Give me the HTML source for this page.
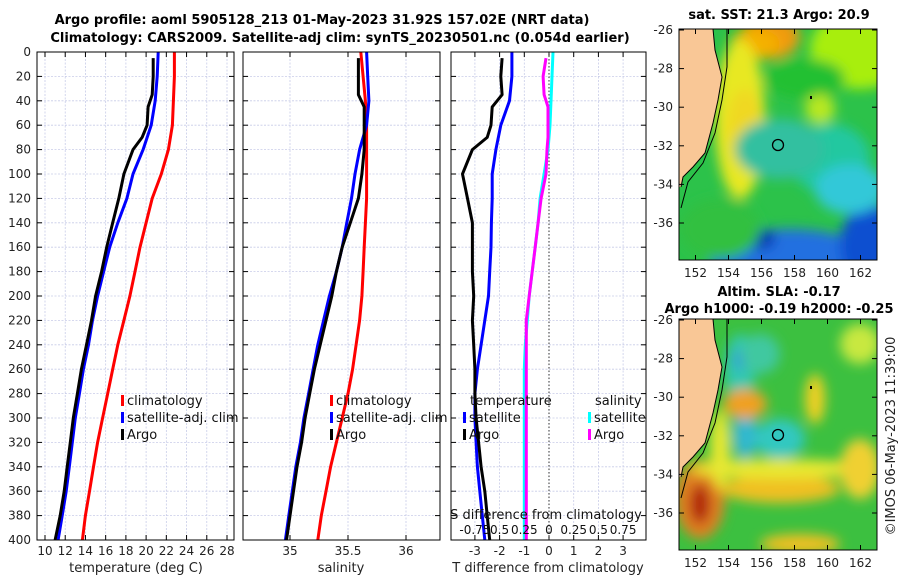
<!DOCTYPE html>
<html><head><meta charset="utf-8"><style>
body{margin:0;background:#fff;}
svg{display:block;font-family:"DejaVu Sans","Liberation Sans",sans-serif;}
.t{font-weight:bold;font-size:13px;fill:#000;}
.tk{font-size:12px;fill:#222;}
.g{stroke:#c8cce8;stroke-width:0.8;stroke-dasharray:2,1.5;}
</style></head><body>
<svg id="c" width="900" height="580" viewBox="0 0 900 580">
<text class="t" x="322" y="24" text-anchor="middle">Argo profile: aoml 5905128_213 01-May-2023 31.92S 157.02E (NRT data)</text>
<text class="t" x="340" y="42" text-anchor="middle">Climatology: CARS2009. Satellite-adj clim: synTS_20230501.nc (0.054d earlier)</text>
<g id="plots"></g>
<g id="maps"></g>
</svg>
<script>
// ---- data ----
const depths=[0,20,40,60,80,100,120,140,160,180,200,220,240,260,280,300,320,340,360,380,400];
const tClim=[22.8,22.8,22.7,22.6,22.2,21.5,20.6,20.0,19.4,18.9,18.4,17.8,17.2,16.7,16.2,15.7,15.2,14.8,14.4,14.0,13.7];
const tSat=[21.2,21.1,20.9,20.5,19.7,18.7,18.1,17.2,16.4,15.8,15.2,14.7,14.3,13.8,13.4,13.0,12.7,12.4,12.1,11.7,11.3];
const argoDepths=[5,20,35,45,60,70,80,100,120,140,160,180,200,220,240,260,280,300,320,340,360,380,400];
const tArgo=[20.7,20.7,20.6,20.2,20.1,19.6,18.7,17.8,17.3,16.7,16.1,15.6,15.0,14.6,14.1,13.6,13.2,12.8,12.5,12.2,11.9,11.5,11.0];
const sClim=[35.61,35.63,35.65,35.66,35.66,35.66,35.66,35.65,35.64,35.63,35.62,35.6,35.57,35.54,35.5,35.45,35.4,35.35,35.31,35.27,35.24];
const sSat=[35.66,35.67,35.68,35.66,35.6,35.56,35.53,35.49,35.45,35.4,35.34,35.29,35.24,35.2,35.16,35.12,35.09,35.05,35.02,34.99,34.96];
const sArgo=[35.59,35.59,35.59,35.64,35.64,35.64,35.64,35.62,35.59,35.52,35.45,35.4,35.36,35.31,35.26,35.21,35.17,35.13,35.1,35.06,35.03,35.0,34.97];
const dTSat=[-1.5,-1.5,-1.6,-1.95,-2.15,-2.3,-2.3,-2.33,-2.35,-2.4,-2.45,-2.6,-2.75,-2.9,-3.0,-3.0,-2.95,-2.9,-2.8,-2.7,-2.6];
const dTArgo=[-1.9,-1.95,-1.9,-2.3,-2.35,-2.5,-3.1,-3.5,-3.3,-3.1,-3.1,-3.1,-3.05,-3.1,-3.05,-3.0,-3.0,-2.95,-2.85,-2.75,-2.6,-2.5,-2.4];
const dSSat=[0.04,0.03,0.02,0.01,-0.01,-0.05,-0.09,-0.11,-0.14,-0.17,-0.2,-0.22,-0.24,-0.25,-0.25,-0.25,-0.25,-0.25,-0.25,-0.25,-0.25];
const dSArgo=[-0.03,-0.06,-0.05,-0.01,-0.01,-0.01,-0.02,-0.03,-0.08,-0.11,-0.14,-0.17,-0.2,-0.23,-0.23,-0.23,-0.23,-0.23,-0.23,-0.23,-0.23,-0.23,-0.23];
const yTicks=[0,20,40,60,80,100,120,140,160,180,200,220,240,260,280,300,320,340,360,380,400];
const tTicks=[10,12,14,16,18,20,22,24,26,28];
const sTicks=[35,35.5,36];
const sTickLabels=["35","35.5","36"];
const dTicks=[-3,-2,-1,0,1,2,3];
const dsTicks=[-0.75,-0.5,-0.25,0,0.25,0.5,0.75];
const dsTickLabels=["-0.75","0.5","0.25","0","0.25","0.5","0.75"];

const NS="http://www.w3.org/2000/svg";
function mk(tag,attrs,parent,txt){const e=document.createElementNS(NS,tag);for(const k in attrs)e.setAttribute(k,attrs[k]);if(txt!==undefined)e.textContent=txt;parent.appendChild(e);return e;}
const TOP=52,BOT=540;
const yScale=d=>TOP+d/400*(BOT-TOP);
function lin(d0,d1,p0,p1){return v=>p0+(v-d0)/(d1-d0)*(p1-p0);}
const plots=document.getElementById('plots');

function panel(name,x0,x1,xs,xt,xtl){
  const g=mk('g',{},plots);
  
  
  mk('rect',{x:x0,y:TOP,width:x1-x0,height:BOT-TOP,fill:'#fff'},g);
  xt.forEach((v,i)=>{const x=xs(v);
    mk('line',{x1:x,x2:x,y1:TOP,y2:BOT,class:'g'},g);
    mk('line',{x1:x,x2:x,y1:BOT,y2:BOT-5,stroke:'#000'},g);
    mk('line',{x1:x,x2:x,y1:TOP,y2:TOP+5,stroke:'#000'},g);
    const t=mk('text',{x:x,y:555,class:'tk','text-anchor':'middle'},g,xtl[i]);
    
    
  });
  yTicks.forEach(v=>{const y=yScale(v);
    mk('line',{x1:x0,x2:x1,y1:y,y2:y,class:'g'},g);
    mk('line',{x1:x0,x2:x0+5,y1:y,y2:y,stroke:'#000'},g);
    mk('line',{x1:x1,x2:x1-5,y1:y,y2:y,stroke:'#000'},g);
  });
  return g;
}
function line(g,xs,vals,ds,color,name,w){
  const pts=vals.map((v,i)=>xs(v).toFixed(1)+','+yScale(ds[i]).toFixed(1)).join(' ');
  const p=mk('polyline',{points:pts,fill:'none',stroke:color,'stroke-width':w||3,'stroke-linejoin':'round'},g);
  
  
}
function frame(g,x0,x1){mk('rect',{x:x0,y:TOP,width:x1-x0,height:BOT-TOP,fill:'none',stroke:'#000','stroke-width':1},g);}
function legend(g,x,y,items){items.forEach((it,i)=>{
  const yy=y+i*17;
  mk('rect',{x:x,y:yy-10,width:3,height:11,fill:it[1]},g);
  const t=mk('text',{x:x+6,y:yy,'font-size':'13px',fill:'#111'},g,it[0]);
  
  
});}

// panel 1 temperature
const xT=lin(10,28,45,227);
let g1=panel('temperature-panel',37,234,xT,tTicks,tTicks.map(String));
line(g1,xT,tClim,depths,'#f00','climatology-temp-line');
line(g1,xT,tSat,depths,'#00f','satellite-temp-line');
line(g1,xT,tArgo,argoDepths,'#000','argo-temp-line');
frame(g1,37,234);
legend(g1,121,405,[['climatology','#f00'],['satellite-adj. clim','#00f'],['Argo','#000']]);
yTicks.forEach(v=>{const t=mk('text',{x:31,y:yScale(v)+4,class:'tk','text-anchor':'end'},g1,String(v));
  
  });
mk('text',{x:136,y:572,'font-size':'13px','text-anchor':'middle',fill:'#222'},g1,'temperature (deg C)');

// panel 2 salinity
const xS=lin(35,36,290,406);
let g2=panel('salinity-panel',243,440,xS,sTicks,sTickLabels);
line(g2,xS,sClim,depths,'#f00','climatology-salinity-line');
line(g2,xS,sSat,depths,'#00f','satellite-salinity-line');
line(g2,xS,sArgo,argoDepths,'#000','argo-salinity-line');
frame(g2,243,440);
legend(g2,330,405,[['climatology','#f00'],['satellite-adj. clim','#00f'],['Argo','#000']]);
mk('text',{x:341,y:572,'font-size':'13px','text-anchor':'middle',fill:'#222'},g2,'salinity');

// panel 3 differences
const xD=lin(0,1,549,573.7);
const xDS=v=>xD(v*4);
let g3=panel('difference-panel',451,646,xD,dTicks,dTicks.map(String));
mk('line',{x1:xD(0),x2:xD(0),y1:TOP,y2:BOT,stroke:'#555','stroke-dasharray':'1.5,2','stroke-width':1.2},g3);
line(g3,xD,dTSat,depths,'#00f','satellite-temp-diff-line');
line(g3,xD,dTArgo,argoDepths,'#000','argo-temp-diff-line');
line(g3,xDS,dSSat,depths,'#0ff','satellite-salinity-diff-line');
line(g3,xDS,dSArgo,argoDepths,'#f0f','argo-salinity-diff-line');
frame(g3,451,646);
mk('text',{x:470,y:405,'font-size':'13px',fill:'#111'},g3,'temperature');
mk('text',{x:595,y:405,'font-size':'13px',fill:'#111'},g3,'salinity');
legend(g3,463,422,[['satellite','#00f'],['Argo','#000']]);
legend(g3,588,422,[['satellite','#0ff'],['Argo','#f0f']]);
mk('text',{x:546,y:519,'font-size':'13px','text-anchor':'middle',fill:'#111'},g3,'S difference from climatology');
dsTicks.forEach((v,i)=>{const t=mk('text',{x:xDS(v),y:534,'font-size':'12px','text-anchor':'middle',fill:'#111'},g3,dsTickLabels[i]);
  
  });
mk('text',{x:548,y:572,'font-size':'13px','text-anchor':'middle',fill:'#222'},g3,'T difference from climatology');

// ---- maps ----
const maps=document.getElementById('maps');
const defs=mk('defs',{},maps);
const f=mk('filter',{id:'bl',x:'-50%',y:'-50%',width:'200%',height:'200%'},defs);
mk('feGaussianBlur',{stdDeviation:'6'},f);
function map(name,y0,base,blobs,title,titleY){
  const g=mk('g',{},maps);
  
  
  const cid='cp'+y0;
  const cp=mk('clipPath',{id:cid},defs);mk('rect',{x:679,y:y0,width:198,height:231},cp);
  const inner=mk('g',{'clip-path':'url(#'+cid+')'},g);
  mk('rect',{x:679,y:y0,width:198,height:231,fill:base},inner);
  const bg=mk('g',{filter:'url(#bl)'},inner);
  blobs.forEach(b=>mk('ellipse',{cx:b[0],cy:y0+b[1],rx:b[2],ry:b[3],fill:b[4]},bg));
  const dy=y0-29;
  const coast=[[713,29],[715,50],[722,77],[718,100],[713,123],[705,153],[693,167],[683,177],[681,187]];
  mk('polygon',{points:'679,'+y0+' '+coast.map(p=>p[0]+','+(p[1]+dy)).join(' ')+' 679,'+(187+dy),fill:'#f9c796'},inner);
  mk('polyline',{points:coast.map(p=>p[0]+','+(p[1]+dy)).join(' '),fill:'none',stroke:'#000','stroke-width':1},inner);
  const iso=[[727,29],[727,67],[722,100],[715,133],[703,163],[688,182],[681,208]];
  mk('polyline',{points:iso.map(p=>p[0]+','+(p[1]+dy)).join(' '),fill:'none',stroke:'#000','stroke-width':1},inner);
  mk('line',{x1:811,x2:811,y1:y0+67,y2:y0+70,stroke:'#000','stroke-width':2},inner);
  mk('circle',{cx:778,cy:y0+116,r:5.5,fill:'none',stroke:'#000','stroke-width':1.3},g);
  mk('rect',{x:679,y:y0,width:198,height:231,fill:'none',stroke:'#000'},g);
  [151,152,154,156,158,160,162].forEach(lon=>{const x=679+(lon-151)*16.5;
    mk('line',{x1:x,x2:x,y1:y0+231,y2:y0+226,stroke:'#000'},g);
    mk('line',{x1:x,x2:x,y1:y0,y2:y0+5,stroke:'#000'},g);
    if(lon>151)mk('text',{x:x,y:y0+248,class:'tk','text-anchor':'middle'},g,String(lon));});
  [-26,-28,-30,-32,-34,-36].forEach(lat=>{const y=y0+1+(-26-lat)*19.3;
    mk('line',{x1:679,x2:684,y1:y,y2:y,stroke:'#000'},g);
    mk('line',{x1:877,x2:872,y1:y,y2:y,stroke:'#000'},g);
    mk('text',{x:673,y:y+4,class:'tk','text-anchor':'end'},g,String(lat));});
  title.forEach((s,i)=>mk('text',{x:779,y:titleY[i],class:'t','text-anchor':'middle'},g,s));
}
map('sst-map',29,'#2cc24a',[
 [860,20,50,40,'#a8ee10'],[770,8,30,22,'#f09a10'],[755,15,25,15,'#f4b000'],[740,90,25,80,'#e8e820'],[745,100,18,40,'#f0d820'],
 [830,130,40,35,'#20c8a0'],[780,120,45,30,'#30c0a0'],[790,230,80,30,'#2070e0'],[870,215,30,40,'#1050d0'],[760,210,15,10,'#0030b0'],
 [805,50,40,20,'#22c030'],[820,80,15,15,'#b8e820'],[720,200,40,30,'#30c040'],[850,160,35,25,'#30c8d8'],[710,260,20,10,'#20c8d0']
],['sat. SST: 21.3  Argo: 20.9'],[19]);
map('sla-map',319,'#3cc040',[
 [740,50,15,35,'#30c8b0'],[740,40,6,10,'#3090e0'],[745,115,12,25,'#30b8d0'],[780,120,25,20,'#30c8c0'],
 [745,85,22,15,'#f0a020'],[700,180,25,40,'#e08020'],[700,185,10,20,'#b02010'],[780,170,60,14,'#f0c020'],[780,150,90,10,'#e8e830'],
 [815,80,10,25,'#f0d020'],[860,150,20,30,'#f0d030'],[800,225,40,10,'#f0c020'],[720,130,10,40,'#e8e830'],[760,35,20,20,'#40c8a0'],[860,25,20,20,'#c8e840']
],['Altim. SLA: -0.17','Argo h1000: -0.19 h2000: -0.25'],[296,313]);
const cr=mk('text',{x:895,y:436,'font-size':'13px',fill:'#222','text-anchor':'middle',transform:'rotate(-90 895 436)'},maps,'©IMOS 06-May-2023 11:39:00');


</script>
</body></html>
